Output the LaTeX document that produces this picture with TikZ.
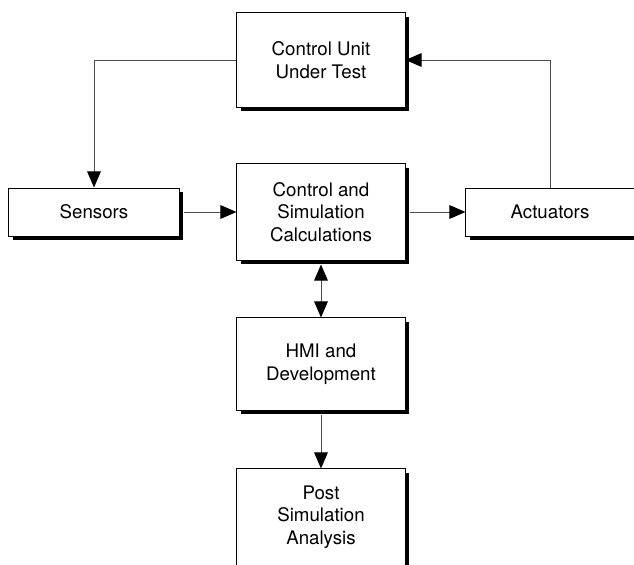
\documentclass[tikz,border=0pt]{standalone}
\usepackage{fontspec}
\setmainfont{TeX Gyre Heros}
\usetikzlibrary{arrows.meta,shadows}

\begin{document}
\begin{tikzpicture}[x=0.025cm,y=-0.025cm,
  >={Triangle[length=0.4cm,width=0.34cm,color=black]},
  box/.style={draw, fill=white, line width=0.7pt, align=center, inner sep=0pt,
    font=\fontsize{13.3}{16}\selectfont,
    drop shadow={shadow xshift=0.1cm, shadow yshift=-0.1cm, fill=black, opacity=1}},
  link/.style={draw=black!70, line width=0.7pt, ->}]

\useasboundingbox (0,0) rectangle (634,565);

\node [box, minimum width=4.2cm, minimum height=2.35cm] (cut) at (321,60) {Control Unit\\Under Test};
\node [box, minimum width=4.25cm, minimum height=1.2cm] (sensors) at (94,212) {Sensors};
\node [box, minimum width=4.2cm, minimum height=2.4cm] (csc) at (321,212) {Control and\\Simulation\\Calculations};
\node [box, minimum width=4.2cm, minimum height=1.2cm] (actuators) at (550,212) {Actuators};
\node [box, minimum width=4.2cm, minimum height=2.3cm] (hmi) at (321,364) {HMI and\\Development};
\node [box, minimum width=4.2cm, minimum height=2.4cm] (post) at (321,517) {Post\\Simulation\\Analysis};

\draw [link] (cut.west) -| (sensors.north);
\draw [link] (actuators.north) |- (cut.east);
\draw [link] ([xshift=0.1cm]sensors.east) -- (csc.west);
\draw [link] ([xshift=0.1cm]csc.east) -- (actuators.west);
\draw [link, <->] ([yshift=-0.1cm]csc.south) -- (hmi.north);
\draw [link] ([yshift=-0.1cm]hmi.south) -- (post.north);

\end{tikzpicture}
\end{document}
